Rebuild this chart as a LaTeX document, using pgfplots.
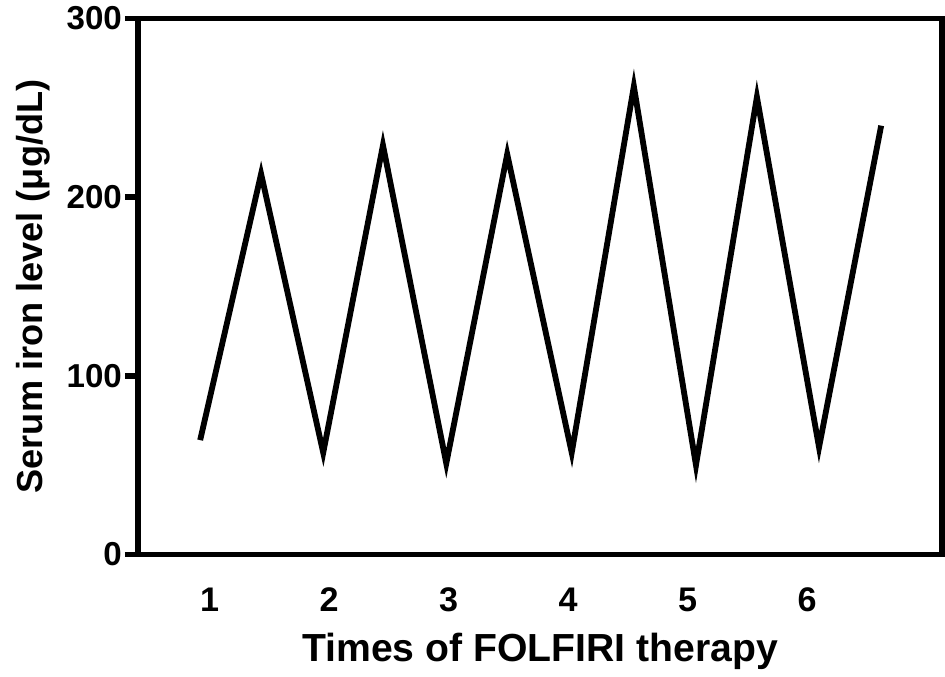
\documentclass[border=0pt]{standalone}
\usepackage{fontspec}
\setmainfont{Liberation Sans}
\usepackage{pgfplots}
\pgfplotsset{compat=1.18}

\begin{document}
\begin{tikzpicture}
\begin{axis}[
  scale only axis,
  width=400.5pt, height=267pt,
  xmin=0.4, xmax=7.13,
  ymin=0, ymax=300,
  axis line style={line width=2.9pt},
  xtick={1,2,3,4,5,6},
  ytick={0,100,200,300},
  ytick pos=left,
  xtick style={draw=none},
  ytick style={line width=2.9pt, black},
  tick align=outside,
  major tick length=6.5pt,
  x tick label style={font=\fontsize{17}{19}\selectfont\bfseries, yshift=-6.5pt},
  y tick label style={font=\fontsize{16.5}{19}\selectfont\bfseries, xshift=2pt},
  /pgf/number format/assume math mode=true,
  xlabel={Times of FOLFIRI therapy},
  ylabel={Serum iron level (μg/dL)},
  xlabel style={font=\fontsize{19.5}{22}\selectfont\bfseries, at={(axis description cs:0.5,0)}, anchor=center, yshift=-48.5pt},
  ylabel style={font=\fontsize{18}{20}\selectfont\bfseries, at={(axis description cs:0,0.5)}, anchor=center, yshift=52pt},
  clip=false,
]
\addplot[black, line width=2.9pt, line join=miter] coordinates {
  (0.92,64)(1.43,213)(1.95,57)(2.45,229)(2.98,51)(3.49,224)
  (4.03,57)(4.55,262)(5.07,50)(5.58,256)(6.10,60)(6.62,240)};
\end{axis}
% small white margin on the left, as in the reference
\path (current bounding box.west) ++(-5pt,0) coordinate (lm);
\path (lm) -- (current bounding box.east);
\end{tikzpicture}
\end{document}
